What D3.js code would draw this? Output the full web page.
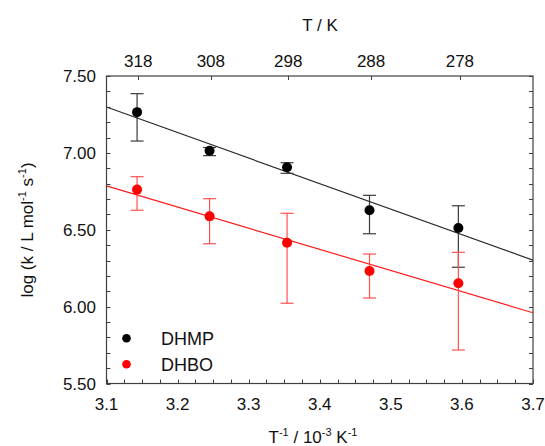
<!DOCTYPE html>
<html><head><meta charset="utf-8">
<script src="https://cdn.jsdelivr.net/npm/d3@7"></script>
<style>body{margin:0;background:#fff}svg{display:block}text{font-family:"Liberation Sans",Arial,sans-serif;fill:#111}</style>
</head><body>
<svg id="c" width="545" height="446"></svg>
<script>
// data
const invT = [3.143, 3.245, 3.354, 3.470, 3.595];          // 10^3 / T
const dhmp = [7.265, 7.014, 6.906, 6.627, 6.511];
const dhmpHi = [7.385, 7.035, 6.936, 6.724, 6.656];
const dhmpLo = [7.077, 6.982, 6.867, 6.474, 6.256];
const dhbo = [6.761, 6.587, 6.416, 6.232, 6.152];
const dhboHi = [6.845, 6.702, 6.607, 6.342, 6.353];
const dhboLo = [6.627, 6.409, 6.022, 6.056, 5.718];
const fitX = [3.1, 3.7];
const dhmpFit = [7.298, 6.302];
const dhboFit = [6.785, 5.960];
const xTicks = [3.1, 3.2, 3.3, 3.4, 3.5, 3.6, 3.7];
const yTicks = [5.5, 6.0, 6.5, 7.0, 7.5];
const topTicks = [318, 308, 298, 288, 278];
const series = [
  {name: "DHMP", y: dhmp, hi: dhmpHi, lo: dhmpLo, fit: dhmpFit, color: "#000000", bar: "#3a3a3a", line: "#2a2a2a"},
  {name: "DHBO", y: dhbo, hi: dhboHi, lo: dhboLo, fit: dhboFit, color: "#ff0000", bar: "#ff5050", line: "#ff1a1a"}
];

const L = 106.5, R = 533, T = 76, B = 383.5;
const svg = d3.select("#c");
const x = d3.scaleLinear().domain([3.1, 3.7]).range([L, R]);
const y = d3.scaleLinear().domain([5.5, 7.5]).range([B, T]);
const fs = 17;

svg.append("defs").append("clipPath").attr("id", "clip")
  .append("rect").attr("x", L).attr("y", T).attr("width", R - L).attr("height", B - T);

const axisColor = "#404040";
// minor/major ticks
const gT = svg.append("g").attr("stroke", axisColor).attr("stroke-width", 1);
d3.range(0, 25).map(i => 3.1 + i * 0.025).forEach(v => {
  const px = Math.round(x(v)) + 0.5;
  gT.append("line").attr("x1", px).attr("x2", px).attr("y1", B).attr("y2", B - 4);
});
d3.range(0, 21).map(i => 5.5 + i * 0.1).forEach(v => {
  const py = Math.round(y(v)) + 0.5;
  gT.append("line").attr("x1", L).attr("x2", L + 4).attr("y1", py).attr("y2", py);
  gT.append("line").attr("x1", R).attr("x2", R - 4).attr("y1", py).attr("y2", py);
});
topTicks.forEach(t => {
  const px = Math.round(x(1000 / t)) + 0.5;
  gT.append("line").attr("x1", px).attr("x2", px).attr("y1", T).attr("y2", T + 4);
});
svg.append("rect").attr("x", L).attr("y", T).attr("width", R - L).attr("height", B - T)
  .attr("fill", "none").attr("stroke", axisColor).attr("stroke-width", 1.2);

// tick labels
xTicks.forEach(v => svg.append("text").attr("x", x(v)).attr("y", 410).attr("text-anchor", "middle")
  .attr("font-size", fs).text(d3.format(".1f")(v)));
yTicks.forEach(v => svg.append("text").attr("x", 96).attr("y", y(v) + 6).attr("text-anchor", "end")
  .attr("font-size", fs).text(d3.format(".2f")(v)));
topTicks.forEach(t => svg.append("text").attr("x", x(1000 / t)).attr("y", 67).attr("text-anchor", "middle")
  .attr("font-size", fs).text(t));

// titles
svg.append("text").attr("x", 320).attr("y", 31).attr("text-anchor", "middle").attr("font-size", fs).text("T / K");
const xt = svg.append("text").attr("x", 313).attr("y", 443).attr("text-anchor", "middle").attr("font-size", fs);
xt.append("tspan").text("T");
xt.append("tspan").attr("font-size", 11).attr("dy", -7).text("-1");
xt.append("tspan").attr("dy", 7).text(" / 10");
xt.append("tspan").attr("font-size", 11).attr("dy", -7).text("-3");
xt.append("tspan").attr("dy", 7).text(" K");
xt.append("tspan").attr("font-size", 11).attr("dy", -7).text("-1");
const yt = svg.append("text").attr("transform", "translate(33,230) rotate(-90)").attr("text-anchor", "middle").attr("font-size", fs);
yt.append("tspan").text("log (k / L mol");
yt.append("tspan").attr("font-size", 11).attr("dy", -7).text("-1");
yt.append("tspan").attr("dy", 7).text(" s");
yt.append("tspan").attr("font-size", 11).attr("dy", -7).text("-1");
yt.append("tspan").attr("dy", 7).text(")");

// fit lines
const plot = svg.append("g").attr("clip-path", "url(#clip)");
series.forEach(s => {
  plot.append("line").attr("x1", x(fitX[0])).attr("y1", y(s.fit[0])).attr("x2", x(fitX[1])).attr("y2", y(s.fit[1]))
    .attr("stroke", s.line).attr("stroke-width", 1.2);
});
// error bars and points
series.forEach(s => {
  const g = svg.append("g");
  invT.forEach((v, i) => {
    const px = x(v);
    g.append("line").attr("x1", px).attr("x2", px).attr("y1", y(s.hi[i])).attr("y2", y(s.lo[i]))
      .attr("stroke", s.bar).attr("stroke-width", 1.2);
    [s.hi[i], s.lo[i]].forEach(e => g.append("line").attr("x1", px - 6.5).attr("x2", px + 6.5)
      .attr("y1", y(e)).attr("y2", y(e)).attr("stroke", s.bar).attr("stroke-width", 1.2));
  });
  invT.forEach((v, i) => g.append("circle").attr("cx", x(v)).attr("cy", y(s.y[i])).attr("r", 5).attr("fill", s.color));
});

// legend
series.forEach((s, i) => {
  const ly = 338.3 + i * 26;
  svg.append("circle").attr("cx", 126.5).attr("cy", ly).attr("r", 4.3).attr("fill", s.color);
  svg.append("text").attr("x", 161).attr("y", ly + 7).attr("font-size", 18).text(s.name);
});
</script>
</body></html>
